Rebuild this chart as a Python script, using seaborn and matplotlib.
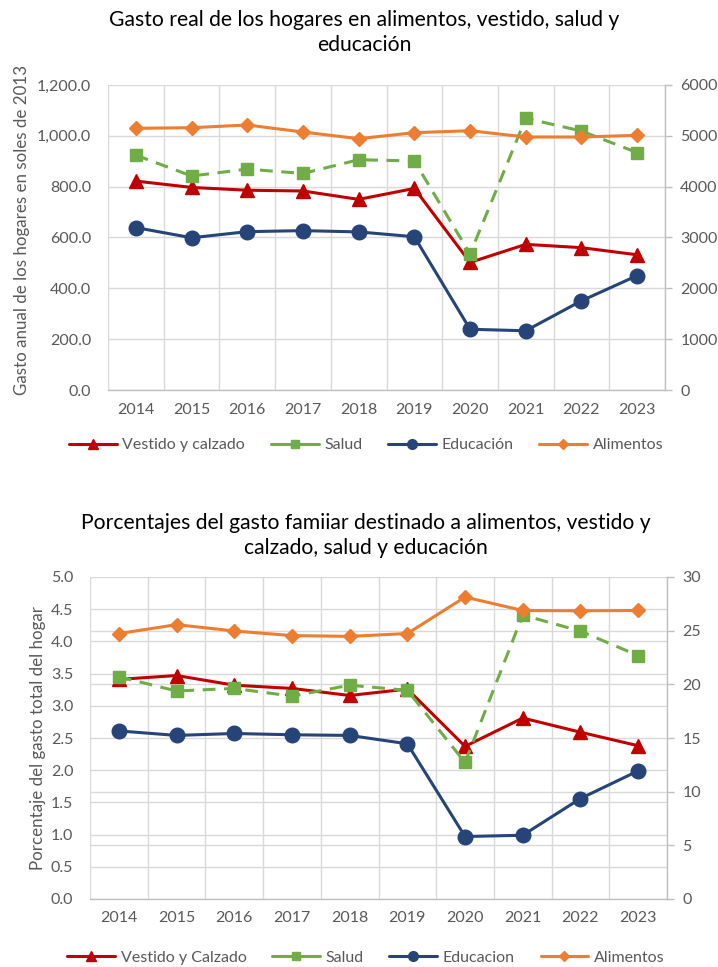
import matplotlib
matplotlib.use("Agg")
import matplotlib.pyplot as plt
from matplotlib.lines import Line2D
from matplotlib.ticker import FixedLocator, FuncFormatter
import seaborn as sns

sns.set_style("white")
plt.rcParams["font.family"] = ["Lato", "DejaVu Sans"]

# ---- data -----------------------------------------------------------------
years = [2014, 2015, 2016, 2017, 2018, 2019, 2020, 2021, 2022, 2023]

# Real annual household spending (soles of 2013)
real_vestido = [822, 797, 786, 783, 750, 793, 502, 573, 560, 532]
real_salud = [924, 842, 869, 852, 906, 901, 535, 1069, 1019, 934]
real_educacion = [639, 599, 623, 627, 622, 603, 239, 233, 351, 450]
real_alimentos = [5148, 5160, 5213, 5075, 4944, 5062, 5101, 4977, 4977, 5010]

# Share of total household spending (%)
pct_vestido = [3.41, 3.47, 3.32, 3.27, 3.16, 3.26, 2.37, 2.81, 2.59, 2.38]
pct_salud = [3.45, 3.23, 3.27, 3.15, 3.32, 3.24, 2.12, 4.41, 4.16, 3.78]
pct_educacion = [2.61, 2.54, 2.57, 2.55, 2.54, 2.41, 0.97, 0.99, 1.56, 1.99]
pct_alimentos = [24.73, 25.56, 24.97, 24.54, 24.47, 24.73, 28.13, 26.88, 26.85, 26.88]

labels_top = ["Vestido y calzado", "Salud", "Educación", "Alimentos"]
labels_bottom = ["Vestido y Calzado", "Salud", "Educacion", "Alimentos"]

# ---- styling --------------------------------------------------------------
RED, GREEN, NAVY, ORANGE = "#C00000", "#70AD47", "#264478", "#ED7D31"
GRID, AXIS, TXT = "#D9D9D9", "#BFBFBF", "#595959"
LW = 2.2
FS = 11.5
TITLE_FS = 15.2

fig = plt.figure(figsize=(7.18, 9.67), dpi=100)

# legend keys: solid lines with small markers
legend_keys = [
    Line2D([], [], color=RED, lw=LW, marker="^", ms=7, mec=RED),
    Line2D([], [], color=GREEN, lw=LW, marker="s", ms=6, mec=GREEN),
    Line2D([], [], color=NAVY, lw=LW, marker="o", ms=7, mec=NAVY),
    Line2D([], [], color=ORANGE, lw=LW, marker="D", ms=5, mec=ORANGE),
]


def draw_panel(rect, left_series, right_series, ylim_l, step_l, ylim_r,
               step_r, fmt_l, fmt_r, extra_grid):
    ax = fig.add_axes(rect)
    styles = [
        dict(color=RED, marker="^", markersize=10),
        dict(color=GREEN, marker="s", markersize=9, linestyle=(0, (4.2, 2.8))),
        dict(color=NAVY, marker="o", markersize=10.5),
    ]
    for vals, st in zip(left_series, styles):
        sns.lineplot(x=years, y=vals, ax=ax, linewidth=LW,
                     markeredgecolor=st["color"], markeredgewidth=1,
                     zorder=3, legend=False, **st)
    ax2 = ax.twinx()
    sns.lineplot(x=years, y=right_series, ax=ax2, color=ORANGE, marker="D",
                 markersize=7.5, linewidth=LW, markeredgecolor=ORANGE,
                 markeredgewidth=1, zorder=3, legend=False)

    for a in (ax, ax2):
        a.set_xlim(2013.5, 2023.5)
        a.set_xlabel("")
        a.set_ylabel("")
        a.set_facecolor("none")
    ax.set_ylim(*ylim_l)
    ax2.set_ylim(*ylim_r)

    # category ticks and boundary gridlines
    ax.xaxis.set_major_locator(FixedLocator(years))
    ax.xaxis.set_minor_locator(FixedLocator([y - 0.5 for y in years] + [2023.5]))
    ax.tick_params(axis="x", which="both", length=0, labelsize=FS,
                   labelcolor=TXT, pad=9)
    ax.grid(axis="x", which="minor", color=GRID, linewidth=1.0)
    ax.grid(axis="x", which="major", visible=False)

    nl = int(round((ylim_l[1] - ylim_l[0]) / step_l))
    ax.yaxis.set_major_locator(FixedLocator([ylim_l[0] + i * step_l for i in range(nl + 1)]))
    ax.yaxis.set_major_formatter(FuncFormatter(fmt_l))
    ax.tick_params(axis="y", which="both", length=0, labelsize=FS,
                   labelcolor=TXT, pad=12)
    ax.grid(axis="y", which="major", color=GRID, linewidth=1.0)
    nr = int(round((ylim_r[1] - ylim_r[0]) / step_r))
    if extra_grid:
        ratio = (ylim_l[1] - ylim_l[0]) / (ylim_r[1] - ylim_r[0])
        ax.yaxis.set_minor_locator(FixedLocator([i * step_r * ratio for i in range(nr + 1)]))
        ax.grid(axis="y", which="minor", color=GRID, linewidth=1.0)

    ax2.yaxis.set_major_locator(FixedLocator([ylim_r[0] + i * step_r for i in range(nr + 1)]))
    ax2.yaxis.set_major_formatter(FuncFormatter(fmt_r))
    ax2.tick_params(axis="y", length=5, width=1, color=AXIS, labelsize=FS,
                    labelcolor=TXT, pad=6, direction="out")
    ax2.grid(False)

    for s in ("left", "top", "right"):
        ax.spines[s].set_visible(False)
    ax.spines["bottom"].set_color(AXIS)
    ax.spines["bottom"].set_linewidth(1.0)
    for s in ("left", "top", "bottom"):
        ax2.spines[s].set_visible(False)
    ax2.spines["right"].set_visible(True)
    ax2.spines["right"].set_color(AXIS)
    ax2.spines["right"].set_linewidth(1.0)
    return ax, ax2


W, H = 718, 967


def rect(x0, y0, x1, y1):
    return [x0 / W, 1 - y1 / H, (x1 - x0) / W, (y1 - y0) / H]


def add_legend(labels, y):
    fig.legend(legend_keys, labels, loc="center", bbox_to_anchor=(366 / W, 1 - y / H),
               ncol=4, frameon=False, fontsize=FS, labelcolor=TXT, handlelength=3.0,
               handletextpad=0.35, columnspacing=1.6)


# ---- top panel --------------------------------------------------------------
draw_panel(
    rect(108, 85, 665, 390),
    [real_vestido, real_salud, real_educacion], real_alimentos,
    (0, 1200), 200, (0, 6000), 1000,
    lambda v, p: f"{v:,.1f}", lambda v, p: f"{v:.0f}", False)

fig.text(364 / W, 1 - 20 / H, "Gasto real de los hogares en alimentos, vestido, salud y",
         ha="center", va="center", fontsize=TITLE_FS, color="black")
fig.text(364 / W, 1 - 45 / H, "educación",
         ha="center", va="center", fontsize=TITLE_FS, color="black")
fig.text(22 / W, 1 - 230 / H, "Gasto anual de los hogares en soles de 2013",
         rotation=90, ha="center", va="center", fontsize=12.2, color=TXT)
add_legend(labels_top, 445)

# ---- bottom panel -----------------------------------------------------------
draw_panel(
    rect(90, 577, 667, 899),
    [pct_vestido, pct_salud, pct_educacion], pct_alimentos,
    (0, 5), 0.5, (0, 30), 5,
    lambda v, p: f"{v:.1f}", lambda v, p: f"{v:.0f}", True)

fig.text(366 / W, 1 - 523 / H,
         "Porcentajes del gasto famiiar destinado a alimentos, vestido y",
         ha="center", va="center", fontsize=TITLE_FS, color="black")
fig.text(366 / W, 1 - 548 / H, "calzado, salud y educación",
         ha="center", va="center", fontsize=TITLE_FS, color="black")
fig.text(38 / W, 1 - 738 / H, "Porcentaje del gasto total del hogar",
         rotation=90, ha="center", va="center", fontsize=12.2, color=TXT)
add_legend(labels_bottom, 958)

fig.savefig("out.png", dpi=100)
